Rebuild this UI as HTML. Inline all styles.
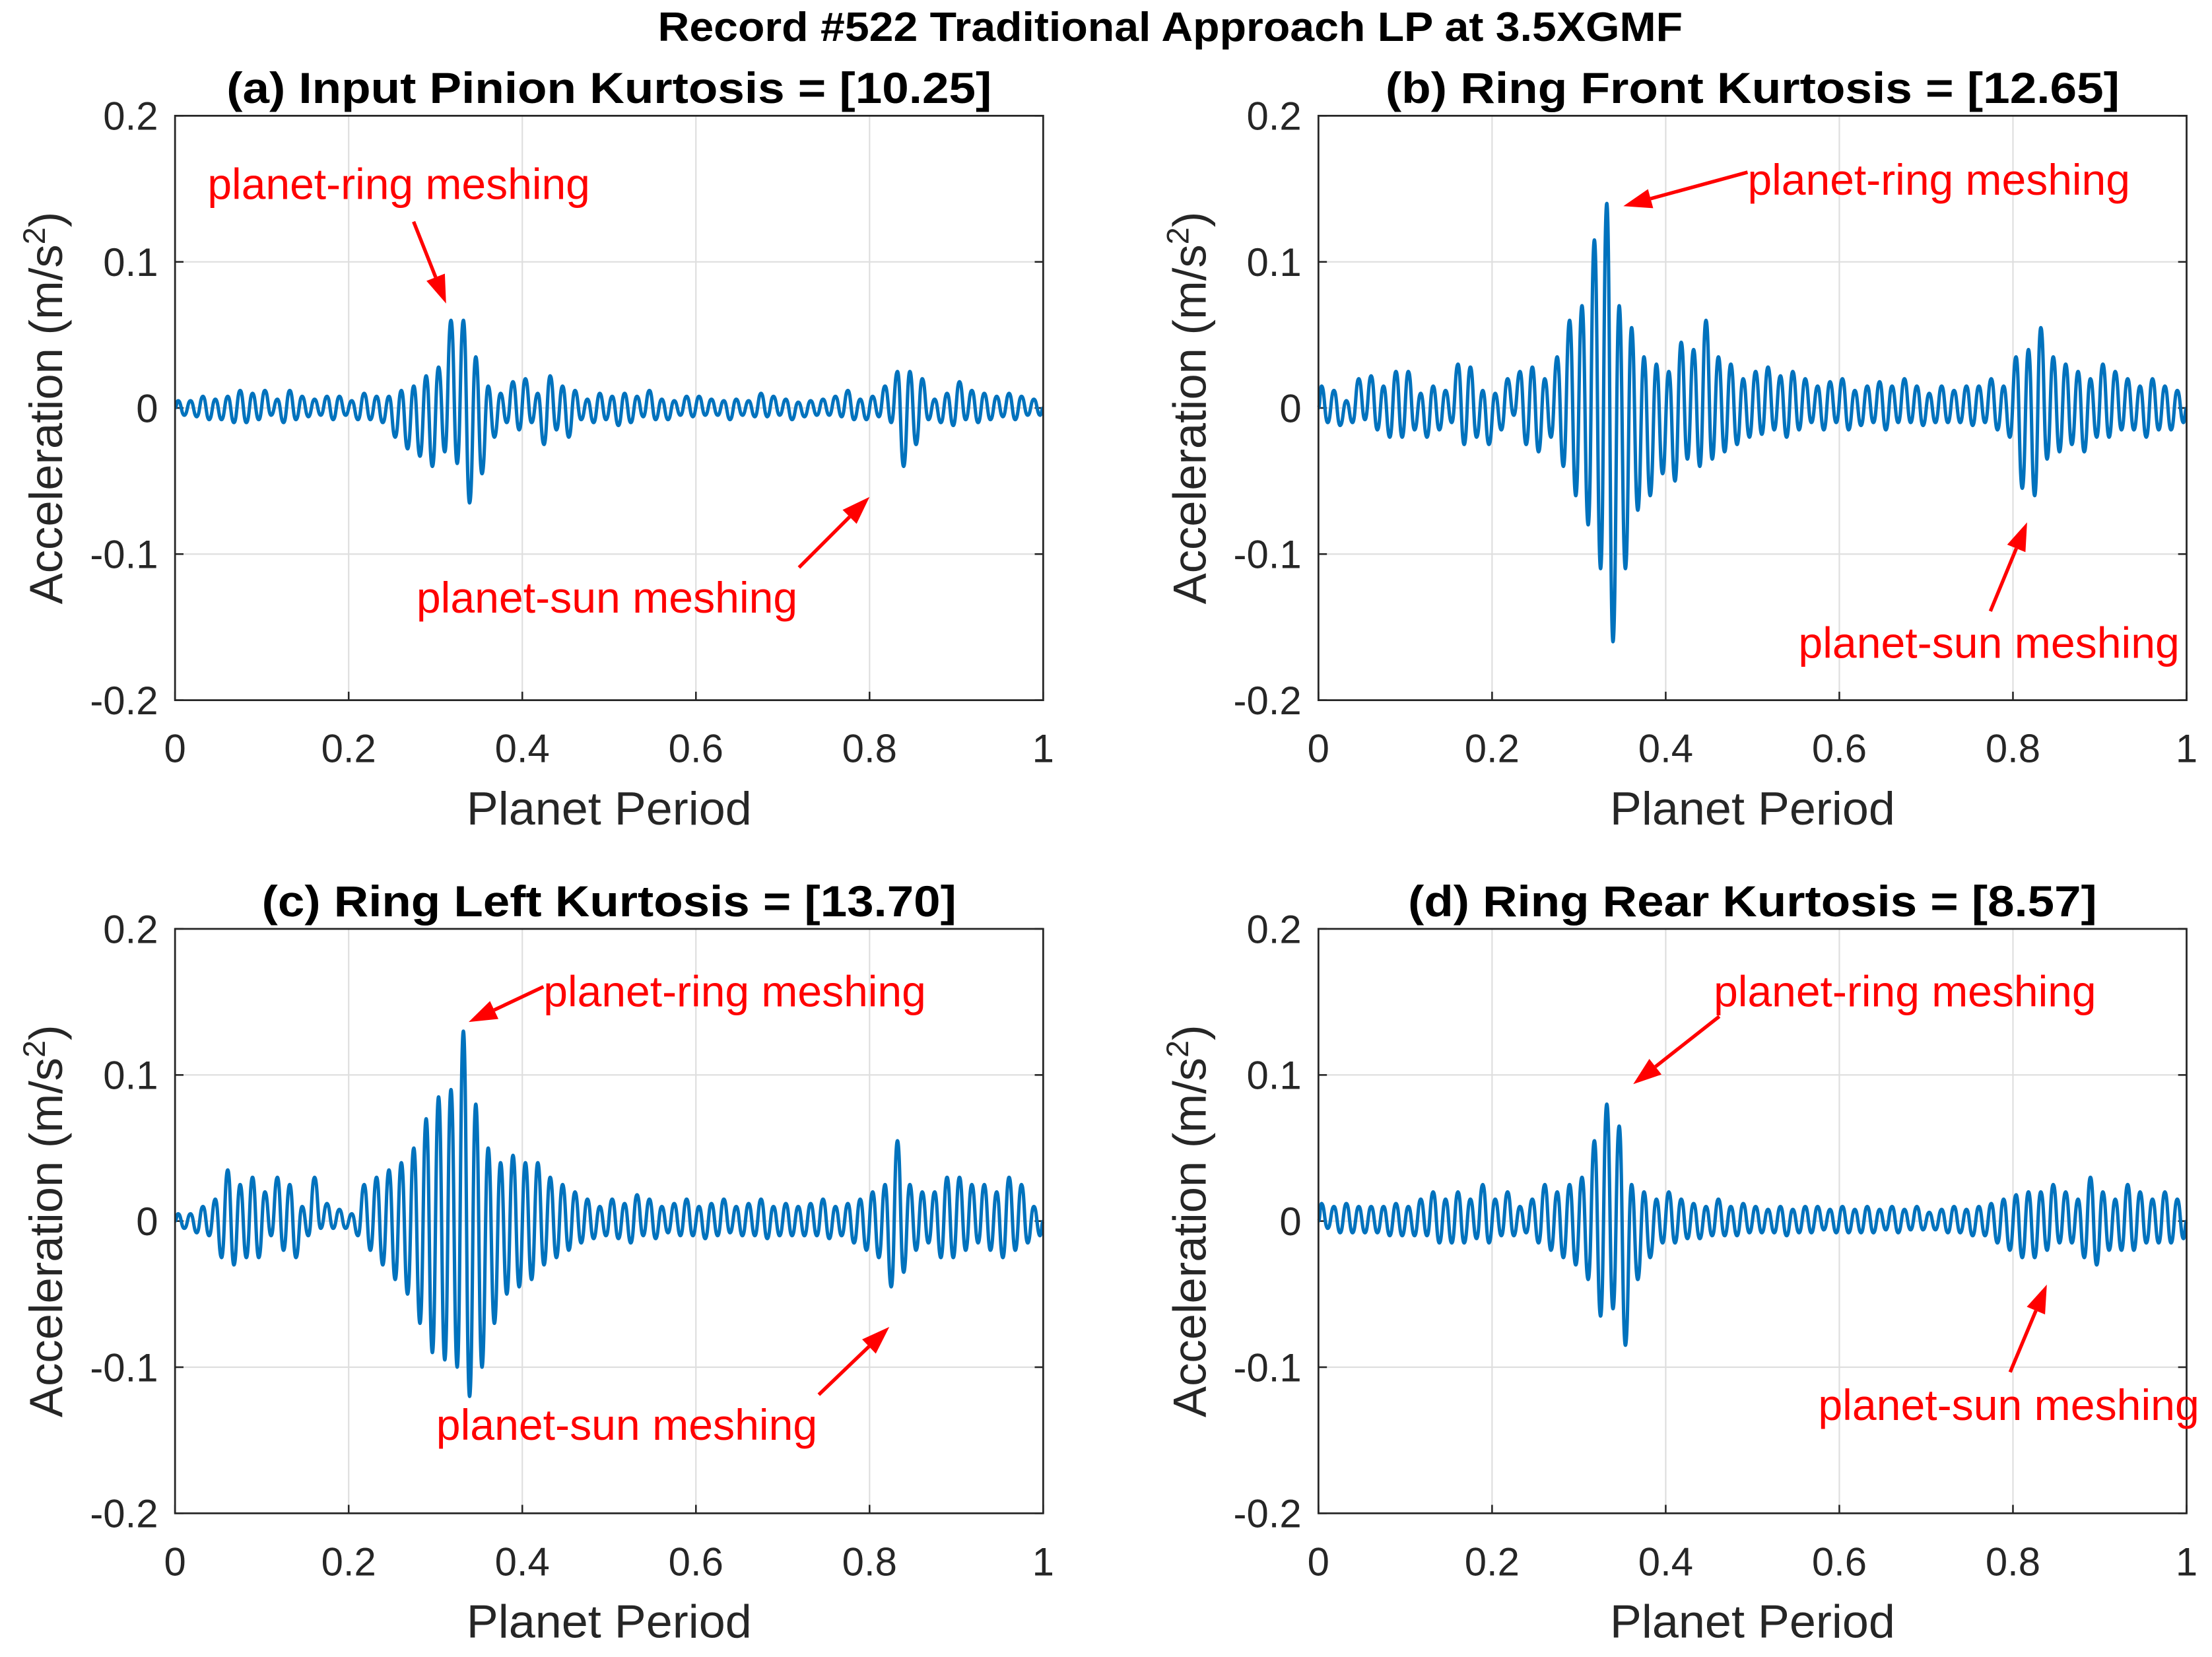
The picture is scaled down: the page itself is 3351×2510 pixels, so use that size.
<!DOCTYPE html>
<html><head><meta charset="utf-8"><style>html,body{margin:0;padding:0;background:#fff}svg{display:block}</style></head>
<body>
<svg id="fig" width="3351" height="2510" viewBox="0 0 1567 1173.8" preserveAspectRatio="none" xmlns="http://www.w3.org/2000/svg" font-family="Liberation Sans, Arial, sans-serif">
<text x="829" y="29" text-anchor="middle" font-size="29" font-weight="bold" textLength="726" lengthAdjust="spacingAndGlyphs">Record #522 Traditional Approach LP at 3.5XGMF</text>
</svg>
<script>
const xTicks=[0,0.2,0.4,0.6,0.8,1];
const xTickLabels=["0","0.2","0.4","0.6","0.8","1"];
const yTicks=[0.2,0.1,0,-0.1,-0.2];
const yTickLabels=["0.2","0.1","0","-0.1","-0.2"];
const titles=["(a) Input Pinion Kurtosis = [10.25]","(b) Ring Front Kurtosis = [12.65]","(c) Ring Left Kurtosis = [13.70]","(d) Ring Rear Kurtosis = [8.57]"];
const titleW=[542,520,492,488];
const peaksA=[5,5,8,6,8,12,10,12,6,12,8,6,8,8,5,10,8,8,12,15,22,28,60,60,35,15,10,18,20,10,22,15,12,6,10,8,10,8,12,6,5,8,8,6,5,6,5,10,8,6,4,5,6,8,12,6,8,15,25,25,20,6,10,18,12,10,8,10,8,6];
const troughsA=[-5,-6,-8,-8,-10,-10,-8,-5,-10,-8,-6,-5,-8,-5,-8,-8,-10,-20,-28,-33,-40,-30,-38,-65,-45,-20,-10,-15,-10,-25,-15,-20,-8,-10,-8,-12,-10,-6,-8,-8,-5,-6,-5,-5,-8,-5,-6,-6,-5,-8,-6,-5,-5,-6,-8,-8,-6,-10,-40,-25,-8,-10,-12,-8,-10,-8,-6,-8,-5,-5];
const peaksB=[15,12,5,20,22,15,25,25,10,15,12,30,28,12,10,20,25,28,20,35,60,70,115,140,70,55,35,30,25,45,40,60,35,30,20,25,28,22,25,20,15,18,20,12,15,18,15,20,15,10,15,12,15,15,20,15,35,40,55,35,30,25,20,30,25,20,15,20,15,12];
const troughsB=[-10,-12,-10,-8,-15,-20,-20,-15,-20,-15,-10,-25,-20,-25,-15,-5,-25,-30,-20,-40,-60,-80,-110,-160,-110,-70,-60,-45,-50,-35,-40,-35,-30,-25,-20,-18,-15,-20,-15,-10,-15,-10,-15,-12,-10,-15,-10,-10,-12,-10,-10,-10,-12,-10,-15,-20,-55,-60,-35,-30,-25,-30,-20,-20,-15,-15,-20,-15,-15,-10];
const peaksC=[5,5,10,15,35,25,30,20,30,25,10,30,12,8,5,25,30,35,40,50,70,85,90,130,80,50,40,45,40,40,30,25,20,15,10,15,12,18,15,10,12,15,10,12,15,10,12,15,10,12,10,12,15,10,12,15,20,25,55,25,20,20,30,30,25,25,20,30,25,10];
const troughsC=[-5,-8,-10,-25,-30,-25,-25,-10,-20,-25,-10,-5,-5,-5,-10,-20,-30,-40,-50,-70,-90,-95,-100,-120,-100,-70,-50,-45,-40,-30,-25,-20,-15,-12,-10,-12,-15,-10,-12,-8,-10,-10,-12,-10,-8,-10,-10,-12,-10,-10,-10,-10,-12,-10,-15,-20,-25,-45,-35,-20,-15,-25,-25,-20,-15,-20,-25,-20,-15,-10];
const peaksD=[12,10,12,10,10,10,12,10,15,20,15,20,15,25,15,20,10,15,25,20,25,30,55,80,65,25,20,15,20,15,12,10,15,10,12,10,8,10,8,10,10,8,10,8,10,8,10,8,10,6,8,10,8,10,12,15,18,20,20,25,20,15,30,20,15,25,20,15,20,15];
const troughsD=[-5,-8,-8,-8,-8,-10,-10,-10,-10,-15,-15,-15,-12,-15,-10,-10,-8,-15,-20,-25,-30,-40,-65,-60,-85,-40,-25,-15,-15,-12,-12,-10,-10,-10,-8,-8,-8,-10,-8,-8,-6,-8,-8,-8,-8,-6,-8,-6,-6,-6,-8,-8,-10,-10,-15,-20,-25,-25,-20,-15,-15,-25,-30,-20,-20,-20,-15,-15,-15,-12];
const series=[[peaksA,troughsA],[peaksB,troughsB],[peaksC,troughsC],[peaksD,troughsD]];
const panels=[{x0:124,x1:739,y0:82,y1:496},{x0:934,x1:1549,y0:82,y1:496},{x0:124,x1:739,y0:658,y1:1072},{x0:934,x1:1549,y0:658,y1:1072}];
const ann=[
 {ring:[147,141,293,157,316,215],sun:[295,434,566,402,616,352]},
 {ring:[1238,138,1238,122,1150,146],sun:[1274,466,1410,433,1436,370]},
 {ring:[385,713,385,699,332,724],sun:[309,1020,580,988,630,940]},
 {ring:[1214,713,1218,720,1157,768],sun:[1288,1006,1424,972,1450,910]}];
const NS="http://www.w3.org/2000/svg";
const svg=document.getElementById('fig');
function mk(t,a,p){const e=document.createElementNS(NS,t);for(const k in a)e.setAttribute(k,a[k]);(p||svg).appendChild(e);return e;}
function arrow(g,x1,y1,x2,y2){
 const dx=x2-x1,dy=y2-y1,L=Math.hypot(dx,dy),ux=dx/L,uy=dy/L,h=20,w=7;
 const bx=x2-ux*h,by=y2-uy*h;
 const ln=mk('line',{x1:x1,y1:y1,x2:bx,y2:by,stroke:'#ff0000','stroke-width':2.5},g);
 
 
 const hd=mk('polygon',{points:`${x2},${y2} ${bx-uy*w},${by+ux*w} ${bx+uy*w},${by-ux*w}`,fill:'#ff0000'},g);
 
 
}
panels.forEach((P,i)=>{
 const g=mk('g',{});
 
 
 const sx=v=>P.x0+v*(P.x1-P.x0);
 const sy=v=>P.y0+(0.2-v)/0.4*(P.y1-P.y0);
 xTicks.forEach((t,j)=>{
  if(j>0&&j<xTicks.length-1){const gl=mk('line',{x1:sx(t),x2:sx(t),y1:P.y0,y2:P.y1,stroke:'#dedede','stroke-width':1},g);
   }
  const tk=mk('line',{x1:sx(t),x2:sx(t),y1:P.y1,y2:P.y1-6,stroke:'#262626','stroke-width':1.2},g);
  
  const tl=mk('text',{x:sx(t),y:P.y1+44,'text-anchor':'middle','font-size':28,fill:'#262626'},g);
  tl.textContent=xTickLabels[j];
  
 });
 yTicks.forEach((t,j)=>{
  if(j>0&&j<yTicks.length-1){const gl=mk('line',{x1:P.x0,x2:P.x1,y1:sy(t),y2:sy(t),stroke:'#dedede','stroke-width':1},g);
   }
  const tk=mk('line',{x1:P.x0,x2:P.x0+6,y1:sy(t),y2:sy(t),stroke:'#262626','stroke-width':1.2},g);
  
  const tk2=mk('line',{x1:P.x1,x2:P.x1-6,y1:sy(t),y2:sy(t),stroke:'#262626','stroke-width':1.2},g);
  
  const tl=mk('text',{x:P.x0-12,y:sy(t)+10,'text-anchor':'end','font-size':28,fill:'#262626'},g);
  tl.textContent=yTickLabels[j];
  
 });
 const [pk,tr]=series[i];const n=pk.length;const pts=[[0,0]];
 for(let k=0;k<n;k++){pts.push([(k+0.25)/n,pk[k]/1000]);pts.push([(k+0.75)/n,tr[k]/1000]);}
 pts.push([1,0]);
 let d=`M${sx(pts[0][0]).toFixed(2)},${sy(pts[0][1]).toFixed(2)}`;
 for(let k=1;k<pts.length;k++){
  const xa=sx(pts[k-1][0]),ya=sy(pts[k-1][1]),xb=sx(pts[k][0]),yb=sy(pts[k][1]),h=(xb-xa)/2;
  d+=` C${(xa+h).toFixed(2)},${ya.toFixed(2)} ${(xb-h).toFixed(2)},${yb.toFixed(2)} ${xb.toFixed(2)},${yb.toFixed(2)}`;
 }
 const ln=mk('path',{d:d,fill:'none',stroke:'#0072BD','stroke-width':2.4,'stroke-linejoin':'round'},g);
 
 const box=mk('rect',{x:P.x0,y:P.y0,width:P.x1-P.x0,height:P.y1-P.y0,fill:'none',stroke:'#262626','stroke-width':1.3},g);
 
 const tt=mk('text',{x:(P.x0+P.x1)/2,y:P.y0-9,'text-anchor':'middle','font-size':31,'font-weight':'bold',fill:'#000',textLength:titleW[i],lengthAdjust:'spacingAndGlyphs'},g);
 tt.textContent=titles[i];
 
 const xl=mk('text',{x:(P.x0+P.x1)/2,y:P.y1+88,'text-anchor':'middle','font-size':33,fill:'#262626',textLength:202,lengthAdjust:'spacingAndGlyphs'},g);
 xl.textContent='Planet Period';
 
 const cy=(P.y0+P.y1)/2,cx=P.x0-80;
 const yl=mk('text',{x:cx,y:cy,'text-anchor':'middle','font-size':33,fill:'#262626',transform:`rotate(-90 ${cx} ${cy})`},g);
 
 yl.innerHTML='Acceleration (m/s<tspan baseline-shift="super" font-size="22">2</tspan>)';
 const A=ann[i];
 const r=mk('text',{x:A.ring[0],y:A.ring[1],'font-size':31,fill:'#ff0000',textLength:271,lengthAdjust:'spacingAndGlyphs'},g);
 r.textContent='planet-ring meshing';
 
 arrow(g,A.ring[2],A.ring[3],A.ring[4],A.ring[5]);
 const s=mk('text',{x:A.sun[0],y:A.sun[1],'font-size':31,fill:'#ff0000',textLength:270,lengthAdjust:'spacingAndGlyphs'},g);
 s.textContent='planet-sun meshing';
 
 arrow(g,A.sun[2],A.sun[3],A.sun[4],A.sun[5]);
});
</script>
</body></html>
